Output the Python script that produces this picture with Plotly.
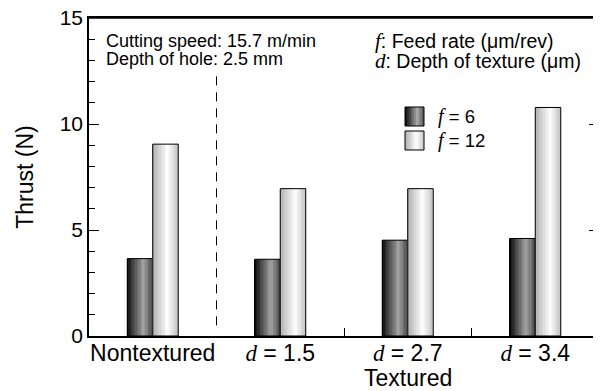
import plotly.graph_objects as go

categories = ["Nontextured", "d = 1.5", "d = 2.7", "d = 3.4"]
tick_labels = [
    "Nontextured",
    "<span style='font-family:Liberation Serif'><i>d</i></span> = 1.5",
    "<span style='font-family:Liberation Serif'><i>d</i></span> = 2.7",
    "<span style='font-family:Liberation Serif'><i>d</i></span> = 3.4",
]
series_names = ["f = 6", "f = 12"]
thrust_f6 = [3.65, 3.62, 4.52, 4.6]
thrust_f12 = [9.05, 6.95, 6.95, 10.78]

SANS = "Liberation Sans, Arial, sans-serif"
SERIF = "Liberation Serif"
xpos = list(range(len(categories)))
BW = 0.2
NS = 18


def interp(stops, t):
    for (t0, v0), (t1, v1) in zip(stops, stops[1:]):
        if t0 <= t <= t1:
            return v0 + (v1 - v0) * (t - t0) / (t1 - t0)
    return stops[-1][1]


dark_stops = [(0, 0.03), (0.65, 0.64), (1.0, 0.3)]
light_stops = [(0, 0.68), (0.6, 1.0), (1.0, 0.76)]


def gray(v):
    c = int(round(255 * v))
    return f"rgb({c},{c},{c})"


fig = go.Figure()

for vals, base_off, stops in [(thrust_f6, -BW, dark_stops), (thrust_f12, 0.0, light_stops)]:
    w = BW / NS
    for k in range(NS):
        t = (k + 0.5) / NS
        fig.add_trace(go.Bar(
            x=xpos, y=vals, offset=base_off + k * w, width=w * 1.2 if k < NS - 1 else w,
            marker=dict(color=gray(interp(stops, t)), line=dict(width=0)),
            showlegend=False, hoverinfo="skip"))
    fig.add_trace(go.Bar(
        x=xpos, y=vals, offset=base_off, width=BW,
        marker=dict(color="rgba(0,0,0,0)", line=dict(color="black", width=1)),
        showlegend=False))

# dashed separator between nontextured and textured
fig.add_shape(type="line", xref="x", yref="y", x0=0.5, x1=0.5, y0=0.5, y1=12.45,
              line=dict(color="black", width=1, dash="9px,7px"))
# top frame line
fig.add_shape(type="line", xref="paper", yref="paper", x0=0, x1=1, y0=1, y1=1,
              line=dict(color="black", width=1.5))

# manual legend with gradient swatches
sw_x0, sw_x1 = (405 - 89) / 510, (424 - 89) / 510
legend_rows = [((336 - 126) / 318, (336 - 107) / 318, dark_stops),
               ((336 - 150) / 318, (336 - 131) / 318, light_stops)]
for (y0, y1, stops), name in zip(legend_rows, series_names):
    n = 10
    for k in range(n):
        t = (k + 0.5) / n
        fig.add_shape(type="rect", xref="paper", yref="paper",
                      x0=sw_x0 + (sw_x1 - sw_x0) * k / n,
                      x1=sw_x0 + (sw_x1 - sw_x0) * (k + 1.15) / n if k < n - 1 else sw_x1,
                      y0=y0, y1=y1, line=dict(width=0), fillcolor=gray(interp(stops, t)))
    fig.add_shape(type="rect", xref="paper", yref="paper", x0=sw_x0, x1=sw_x1, y0=y0, y1=y1,
                  line=dict(color="black", width=1), fillcolor="rgba(0,0,0,0)")
    label = name.replace("f", f"<span style='font-family:{SERIF};font-size:20px'><i>f</i></span>", 1)
    fig.add_annotation(xref="paper", yref="paper", x=(436 - 89) / 510, y=(y0 + y1) / 2,
                       text=label, showarrow=False, xanchor="left", yanchor="middle",
                       font=dict(size=18.5, color="black", family=SANS))

notes = [
    ("Cutting speed: 15.7 m/min", 104, 41, 18),
    ("Depth of hole: 2.5 mm", 104, 59, 18),
    (f"<span style='font-family:{SERIF};font-size:21px'><i>f</i></span>: Feed rate (μm/rev)", 373, 41, 19.5),
    (f"<span style='font-family:{SERIF};font-size:21px'><i>d</i></span>: Depth of texture (μm)", 373, 61, 19.5),
]
for txt, px, py, fs in notes:
    fig.add_annotation(xref="paper", yref="paper", x=(px - 89) / 510, y=(336 - py) / 318,
                       text=txt, showarrow=False, xanchor="left", yanchor="middle",
                       font=dict(size=fs, color="black", family=SANS))

fig.add_annotation(xref="x", yref="paper", x=2, y=(336 - 378) / 318, text="Textured",
                   showarrow=False, xanchor="center", yanchor="middle",
                   font=dict(size=23, color="black", family=SANS))

# the page body adds an 8px offset, so the figure is sized to compensate
fig.update_layout(
    width=593, height=383,
    margin=dict(l=81, r=2, t=10, b=55),
    paper_bgcolor="white", plot_bgcolor="white",
    barmode="overlay", showlegend=False,
    font=dict(family=SANS, color="black"),
    xaxis=dict(
        range=[-0.5, 3.5], tickmode="array", tickvals=xpos, ticktext=tick_labels,
        ticks="", showgrid=False, zeroline=False, showline=True, linecolor="black",
        linewidth=1.5, mirror=True, tickfont=dict(size=23, family=SANS), automargin=False,
        ticklabelstandoff=-4,
        minor=dict(tickmode="array", tickvals=[1.5, 2.5], ticks="inside", ticklen=8,
                   tickcolor="black", tickwidth=1, showgrid=False),
        fixedrange=True,
    ),
    yaxis=dict(
        range=[0, 15], tickmode="array", tickvals=[0, 5, 10, 15], ticks="inside",
        ticklen=10, tickwidth=1, tickcolor="black", showgrid=False, zeroline=False,
        showline=True, linecolor="black", linewidth=1.5, mirror="ticks",
        tickfont=dict(size=21, family=SANS), automargin=False, ticklabeloverflow="allow",
        minor=dict(dtick=1, ticks="inside", ticklen=6, tickcolor="black", tickwidth=1, showgrid=False),
        title=dict(text="Thrust (N)", font=dict(size=23, family=SANS), standoff=20),
        fixedrange=True,
    ),
)

fig.write_html("out.html")
